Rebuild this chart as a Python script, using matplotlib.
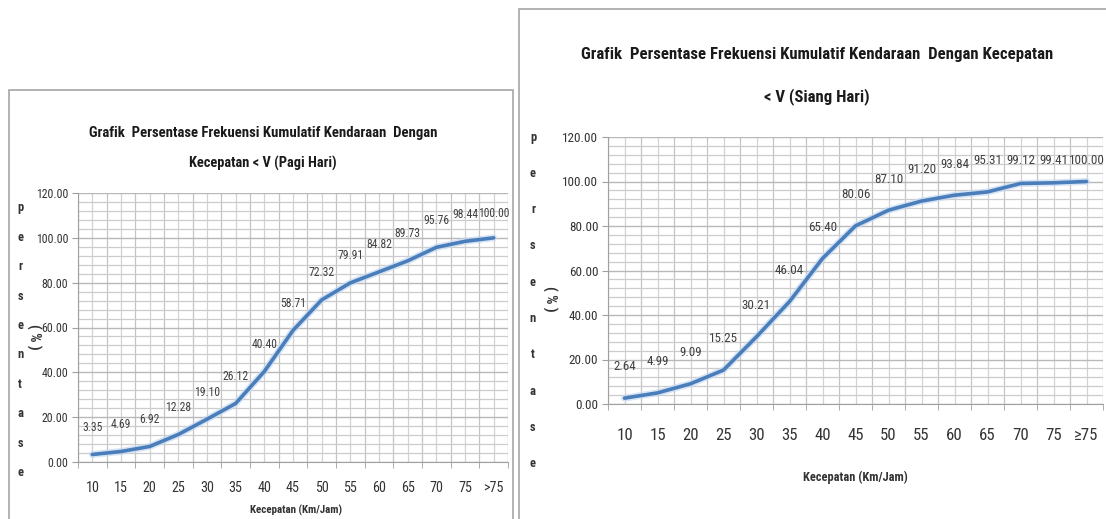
import matplotlib
matplotlib.use("Agg")
import matplotlib.pyplot as plt
from matplotlib import font_manager
from matplotlib.patches import Rectangle
from matplotlib.ticker import MultipleLocator, FormatStrFormatter

fm = font_manager.fontManager
names = {f.name for f in fm.ttflist}
FONT, STRETCH = None, 'normal'
for p in ['Liberation Sans Narrow', 'Roboto Condensed', 'Open Sans Condensed',
          'Noto Sans Condensed', 'DejaVu Sans Condensed', 'Lato Condensed']:
    if p in names:
        FONT = p
        break
if FONT is None:
    cond = [f for f in fm.ttflist
            if str(f.stretch).lower() in ('condensed', 'semi-condensed', 'extra-condensed', 'ultra-condensed')]
    order = ['Liberation Sans', 'DejaVu Sans', 'Noto Sans', 'Roboto', 'Open Sans', 'Lato', 'Inter']
    cond.sort(key=lambda f: order.index(f.name) if f.name in order else 99)
    if cond:
        FONT, STRETCH = cond[0].name, cond[0].stretch
    else:
        FONT = 'Liberation Sans'
plt.rcParams['font.family'] = [FONT, 'DejaVu Sans']
plt.rcParams['font.stretch'] = STRETCH

categories_pagi = ['10', '15', '20', '25', '30', '35', '40', '45', '50', '55', '60', '65', '70', '75', '>75']
values_pagi = [3.35, 4.69, 6.92, 12.28, 19.10, 26.12, 40.40, 58.71, 72.32, 79.91, 84.82, 89.73, 95.76, 98.44, 100.00]
categories_siang = ['10', '15', '20', '25', '30', '35', '40', '45', '50', '55', '60', '65', '70', '75', '≥75']
values_siang = [2.64, 4.99, 9.09, 15.25, 30.21, 46.04, 65.40, 80.06, 87.10, 91.20, 93.84, 95.31, 99.12, 99.41, 100.00]
title_pagi = ['Grafik  Persentase Frekuensi Kumulatif Kendaraan  Dengan', 'Kecepatan < V (Pagi Hari)']
title_siang = ['Grafik  Persentase Frekuensi Kumulatif Kendaraan  Dengan Kecepatan', '< V (Siang Hari)']
xlabel = 'Kecepatan (Km/Jam)'
ylabel_letters = list('persentase')
ylabel_unit = '( % )'

W, H = 1106, 519
fig = plt.figure(figsize=(W / 100, H / 100), dpi=100)
fig.patch.set_facecolor('white')
renderer = fig.canvas.get_renderer()


def fx(px):
    return px / W


def fy(py):
    return 1 - py / H


def fit(text, target_px, boost=1.0, **kw):
    t = fig.text(0, 0, text, fontsize=10, **kw)
    w = t.get_window_extent(renderer).width
    t.remove()
    return 10 * target_px / w * boost


# chart borders
fig.patches.append(Rectangle((fx(9), fy(530)), fx(513 - 9), (530 - 90) / H,
                             transform=fig.transFigure, fill=False, edgecolor='#a6a6a6', lw=1.2))
fig.patches.append(Rectangle((fx(519), fy(530)), fx(1120 - 519), (530 - 9) / H,
                             transform=fig.transFigure, fill=False, edgecolor='#a6a6a6', lw=1.2))


def make_chart(box, cats, vals, title, spec):
    l, r, t, b = box
    ax = fig.add_axes([fx(l), fy(b), fx(r - l), (b - t) / H])
    x = list(range(len(cats)))
    ax.set_xlim(-0.5, len(cats) - 0.5)
    ax.set_ylim(0, 120)
    ax.yaxis.set_major_locator(MultipleLocator(20))
    ax.yaxis.set_minor_locator(MultipleLocator(4))
    ax.yaxis.set_major_formatter(FormatStrFormatter('%.2f'))
    ax.set_xticks(x)
    ax.set_xticklabels(cats)
    ax.set_xticks([i - 0.5 for i in range(len(cats) + 1)], minor=True)
    ax.grid(which='major', axis='y', color='#b8b8b8', lw=1.0)
    ax.grid(which='minor', axis='y', color='#cccccc', lw=0.9)
    ax.grid(which='major', axis='x', color='#d2d2d2', lw=0.9)
    ax.grid(which='minor', axis='x', color='#c4c4c4', lw=0.9)
    ax.set_axisbelow(True)
    for s in ['top', 'right']:
        ax.spines[s].set_visible(False)
    for s in ['left', 'bottom']:
        ax.spines[s].set_color('#a0a0a0')
    ax.tick_params(axis='y', which='major', length=4, color='#a0a0a0',
                   labelsize=fit('120.00', spec['ytick_w'], 1.1), labelcolor='#333333', pad=3)
    ax.tick_params(axis='y', which='minor', length=0)
    ax.tick_params(axis='x', which='major', length=0,
                   labelsize=fit('10', spec['xtick_w'], 1.25), labelcolor='#333333', pad=spec['xpad'])
    ax.tick_params(axis='x', which='minor', length=4, color='#a0a0a0')
    ax.plot(x, vals, color='#c6d9f1', lw=5, alpha=0.7, solid_capstyle='round', zorder=2)
    ax.plot(x, vals, color='#4a7ebb', lw=2.6, solid_capstyle='round', zorder=3)
    dsize = fit('58.71', spec['dlabel_w'], spec['dboost'])
    for xi, v in zip(x, vals):
        ax.text(xi, min(v + spec['loff'], spec['lcap']), f'{v:.2f}', ha='center', va='center',
                fontsize=dsize, color='#404040', zorder=4)
    tx, ty1, ty2 = spec['title_pos']
    for txt, ty, tw in [(title[0], ty1, spec['title_w'][0]), (title[1], ty2, spec['title_w'][1])]:
        fig.text(fx(tx), fy(ty), txt, ha='center', va='center',
                 fontsize=min(fit(txt, tw, 1.0, fontweight='bold'), 14),
                 fontweight='bold', color='#1a1a1a')
    xlx, xly, xlw = spec['xlabel']
    fig.text(fx(xlx), fy(xly), xlabel, ha='center', va='center',
             fontsize=fit(xlabel, xlw, 1.0, fontweight='bold'), fontweight='bold', color='#333333')
    lx, ly0, ldy = spec['letters']
    for i, ch in enumerate(ylabel_letters):
        fig.text(fx(lx), fy(ly0 + i * ldy), ch, ha='center', va='center',
                 fontsize=9, fontweight='bold', color='#333333')
    px_, py_ = spec['unit']
    fig.text(fx(px_), fy(py_), ylabel_unit, ha='center', va='center', rotation=-90,
             fontsize=10.5, fontweight='bold', color='#333333')
    return ax


spec_pagi = dict(ytick_w=29, xtick_w=11, xpad=14, dlabel_w=23, dboost=1.12, loff=12, lcap=111,
                 title_pos=(263, 133, 163), title_w=(350, 148), xlabel=(296, 510, 92),
                 letters=(20, 208, 29.4), unit=(34, 337))
spec_siang = dict(ytick_w=32, xtick_w=13, xpad=17, dlabel_w=28, dboost=1.03, loff=14, lcap=109.6,
                  title_pos=(817, 55, 97), title_w=(470, 105), xlabel=(855, 477, 104),
                  letters=(533, 137, 36.3), unit=(550, 299))

make_chart((78, 508, 193, 462), categories_pagi, values_pagi, title_pagi, spec_pagi)
make_chart((608, 1103, 137, 404), categories_siang, values_siang, title_siang, spec_siang)

fig.savefig('out.png', dpi=100, facecolor='white')
